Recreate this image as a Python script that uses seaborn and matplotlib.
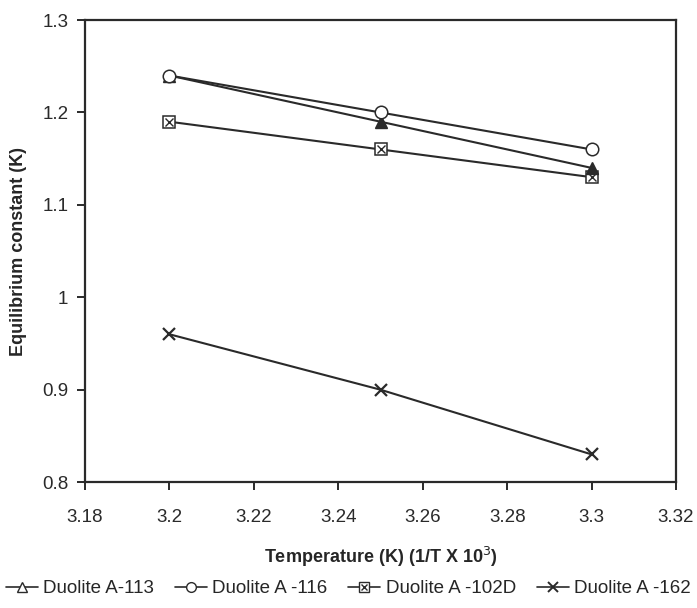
import numpy as np
import pandas as pd
import matplotlib
matplotlib.use("Agg")
import matplotlib.pyplot as plt
import seaborn as sns
from matplotlib.lines import Line2D
from matplotlib.legend_handler import HandlerTuple

# ── Data ─────────────────────────────────────────────────────────────────────
inv_temp = [3.20, 3.25, 3.30]
k_a113  = [1.24, 1.19, 1.14]
k_a116  = [1.24, 1.20, 1.16]
k_a102d = [1.19, 1.16, 1.13]
k_a162  = [0.96, 0.90, 0.83]

LABELS = ["Duolite A-113", "Duolite A -116", "Duolite A -102D", "Duolite A -162"]

sns.set_style("ticks")
plt.rcParams["font.family"] = ["Liberation Sans", "DejaVu Sans"]

LC = "#2a2a2a"

df = pd.DataFrame({
    "x": inv_temp * 4,
    "k": k_a113 + k_a116 + k_a102d + k_a162,
    "series": np.repeat(LABELS, len(inv_temp)),
})

fig = plt.figure(figsize=(6.97, 6.08), dpi=100)
ax = fig.add_axes([0.122, 0.207, 0.848, 0.760])

def draw(name, marker, ms, mfc, mew=1.0, z=2):
    sub = df[df["series"] == name]
    sns.lineplot(data=sub, x="x", y="k", ax=ax, color=LC, lw=1.5,
                 marker=marker, markersize=ms, markerfacecolor=mfc,
                 markeredgecolor=LC, markeredgewidth=mew, zorder=z,
                 legend=False)

draw(LABELS[2], "s", 8, "white", 1.1, 2)
sub = df[df["series"] == LABELS[2]]
ax.plot(sub["x"], sub["k"], ls="none", marker="x", ms=6, mec=LC, mew=1.0, zorder=3)
draw(LABELS[0], "^", 8, LC, 1.0, 4)
draw(LABELS[1], "o", 9, "white", 1.1, 5)
draw(LABELS[3], "x", 8, "none", 1.6, 2)

ax.set_xlim(3.18, 3.32)
ax.set_ylim(0.8, 1.3)
ax.set_xticks(np.arange(3.18, 3.3201, 0.02))
ax.set_xticklabels(["3.18", "3.2", "3.22", "3.24", "3.26", "3.28", "3.3", "3.32"])
ax.set_yticks([0.8, 0.9, 1.0, 1.1, 1.2, 1.3])
ax.set_yticklabels(["0.8", "0.9", "1", "1.1", "1.2", "1.3"])
ax.tick_params(labelsize=13.5, colors=LC, length=6, width=1.4)
ax.tick_params(axis="x", pad=13)
ax.tick_params(axis="y", pad=6)
for s in ax.spines.values():
    s.set_color(LC)
    s.set_linewidth(1.6)

ax.set_xlabel("Temperature (K) (1/T X 10$^3$)", fontsize=13, fontweight="bold", labelpad=14)
ax.set_ylabel("Equilibrium constant (K)", fontsize=13, fontweight="bold", labelpad=11)

# legend handles
h1 = Line2D([], [], color=LC, lw=1.2, marker="^", ms=7, mfc="white", mec=LC)
h2 = Line2D([], [], color=LC, lw=1.2, marker="o", ms=7, mfc="white", mec=LC)
h3a = Line2D([], [], color=LC, lw=1.2, marker="s", ms=7, mfc="white", mec=LC)
h3b = Line2D([], [], ls="none", marker="x", ms=5, mec=LC)
h4 = Line2D([], [], color=LC, lw=1.2, marker="x", ms=7, mec=LC, mew=1.4)
fig.legend([h1, h2, (h3a, h3b), h4], LABELS, loc="lower center",
           bbox_to_anchor=(0.5, -0.01), ncol=4, frameon=False, fontsize=13.5,
           handlelength=1.7, handletextpad=0.3, columnspacing=1.1,
           handler_map={tuple: HandlerTuple(ndivide=1, pad=0)})

fig.savefig("out.png", dpi=100, facecolor="white")
